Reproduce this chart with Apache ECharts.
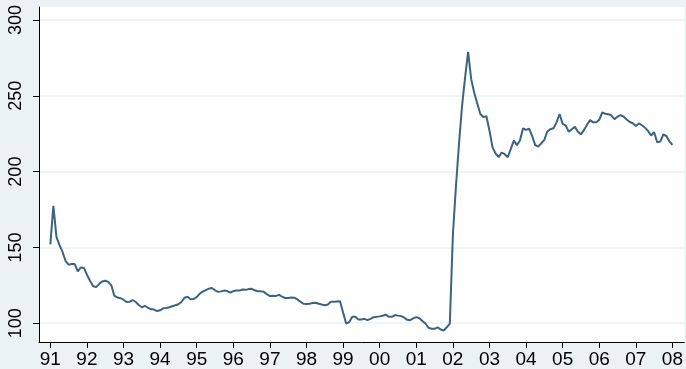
<!DOCTYPE html>
<html>
<head>
<meta charset="utf-8">
<script src="https://cdn.jsdelivr.net/npm/echarts@6/dist/echarts.min.js"></script>
<style>
html,body{margin:0;padding:0;background:#EAF2F3;}
#c{width:686px;height:369px;}
</style>
</head>
<body>
<div id="c"></div>
<script>
// Monthly series, 1991m1 .. 2008m1
const startYear = 1991;
const values = [
  152, 177.5, 157, 151.5, 147, 141, 138.6, 139, 139, 134.2, 136.8, 136.5,
  132, 128, 124.5, 123.8, 125.8, 127.5, 128, 127.3, 125, 118, 117, 116.5,
  115.5, 114, 114.2, 115.3, 114, 112, 110.5, 111.5, 110.2, 109.3, 109, 108,
  108.5, 109.8, 110, 110.5, 111.2, 111.8, 112.5, 114, 116.8, 117.4, 115.8, 116,
  117.2, 119.5, 120.8, 121.8, 122.8, 123.2, 121.7, 120.7, 121, 121.5, 121.2, 120.1,
  121.2, 121.5, 121.5, 122.2, 122, 122.5, 122.7, 121.7, 121.1, 121, 120.7, 119.2,
  117.9, 118.1, 118, 118.7, 117.6, 116.6, 116.6, 116.9, 116.8, 115.7, 114.2, 112.8,
  112.7, 112.9, 113.3, 113.5, 112.8, 112.3, 111.9, 112.4, 114.2, 114.1, 114.3, 114.5,
  107, 99.8, 100.7, 104.2, 104.2, 102.4, 102.4, 102.9, 102, 102.9, 104, 104.2,
  104.5, 104.9, 105.7, 104.2, 104.2, 105.4, 105, 104.7, 103.8, 102.2, 102, 103.2,
  104, 103.3, 101.5, 99.8, 97, 96.3, 96.3, 97.3, 95.8, 95.2, 97.3, 99.8,
  158, 190, 218, 243, 262, 279, 261, 252, 245, 238, 236, 236.5,
  227, 216, 212, 209.5, 212.5, 211.5, 209.5, 215, 220.5, 217.5, 220.5, 228.6,
  227.5, 228.3, 223.5, 217.5, 216.5, 218.7, 221, 226.5, 228, 228.6, 232.5, 238,
  231.5, 230.5, 226.3, 227.9, 229.5, 226.3, 224.6, 227.5, 231, 234, 232.5, 232.5,
  234.2, 239, 238.2, 237.9, 237, 234.6, 236.3, 237.3, 236.2, 234.4, 232.7, 231.9,
  230.1, 231.8, 230.6, 229, 226.9, 223.8, 226, 219.4, 219.8, 224.5, 223.5, 220,
  217.6
];
const xTicks = [1991,1992,1993,1994,1995,1996,1997,1998,1999,2000,2001,2002,2003,2004,2005,2006,2007,2008];
const yTicks = [100,150,200,250,300];

const seriesData = values.map((v, i) => [startYear + i / 12, v]);

const chart = echarts.init(document.getElementById('c'), null, {renderer: 'canvas'});
chart.setOption({
  animation: false,
  backgroundColor: '#EAF2F3',
  grid: {left: 39, right: 0, top: 7, bottom: 26.5, show: true, backgroundColor: '#ffffff', borderWidth: 0},
  xAxis: {
    type: 'value',
    min: 1990.69,
    max: 2008.326,
    axisLine: {show: true, lineStyle: {color: '#000', width: 1}},
    axisTick: {show: true, length: 6, customValues: xTicks, lineStyle: {color: '#000'}},
    axisLabel: {
      customValues: xTicks,
      margin: 8,
      color: '#000',
      fontFamily: 'Liberation Sans, Arial, sans-serif',
      fontSize: 19,
      formatter: v => String(Math.round(v) % 100).padStart(2, '0')
    },
    splitLine: {show: false}
  },
  yAxis: {
    type: 'value',
    min: 87.6,
    max: 308.6,
    axisLine: {show: true, lineStyle: {color: '#000', width: 1}},
    axisTick: {show: true, length: 6, customValues: yTicks, lineStyle: {color: '#000'}},
    axisLabel: {
      customValues: yTicks,
      rotate: 90,
      margin: 14,
      color: '#000',
      fontFamily: 'Liberation Sans, Arial, sans-serif',
      fontSize: 18
    },
    splitLine: {show: true, lineStyle: {color: '#EAF2F3', width: 1.5}}
  },
  series: [{
    type: 'line',
    data: seriesData,
    showSymbol: false,
    lineStyle: {color: '#3B6482', width: 2},
    itemStyle: {color: '#3B6482'}
  }]
});
</script>
</body>
</html>
